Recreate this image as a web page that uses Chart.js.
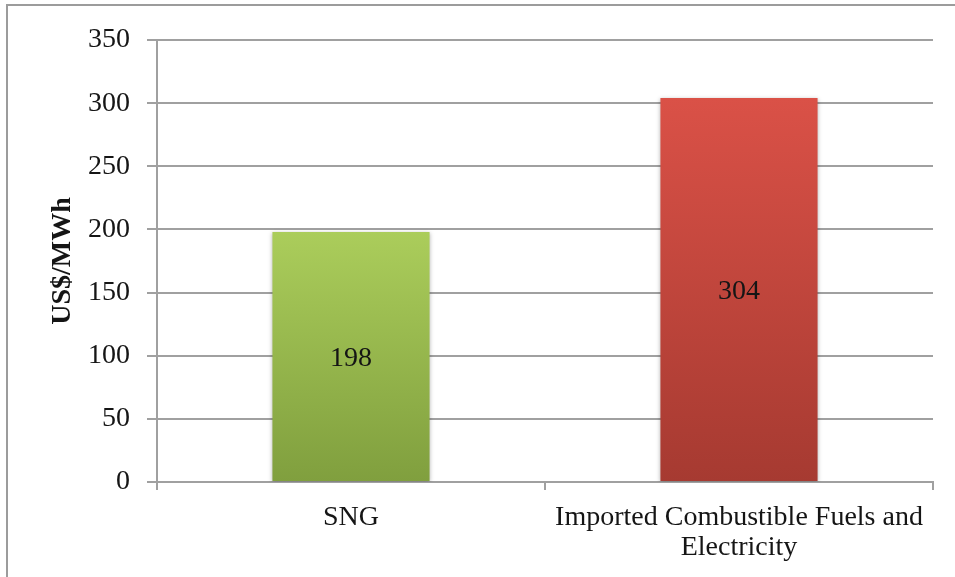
<!DOCTYPE html>
<html>
<head>
<meta charset="utf-8">
<script src="https://cdn.jsdelivr.net/npm/chart.js@4/dist/chart.umd.min.js"></script>
<style>
  html, body { margin: 0; padding: 0; background: #ffffff; }
  #wrap { position: relative; width: 955px; height: 577px; overflow: hidden; }
  #frame { position: absolute; left: 6px; top: 4px; width: 1000px; height: 1000px;
           border-left: 2px solid #9c9c9c; border-top: 2px solid #9c9c9c; }
  #c { position: absolute; left: 0; top: 0; }
</style>
</head>
<body>
<div id="wrap">
  <div id="frame"></div>
  <canvas id="c" width="955" height="577"></canvas>
</div>
<script>
// Cost comparison, US$ per MWh
const categories = ['SNG', ['Imported Combustible Fuels and', 'Electricity']];
const costs = [198, 304];
const yTicks = [0, 50, 100, 150, 200, 250, 300, 350];
const gradientStops = [
  ['#abcd5b', '#809f3e'],
  ['#da5147', '#a63a31']
];

const FONT = "'Liberation Serif', 'Times New Roman', serif";
const GRID = '#a0a0a0';
const TEXT = '#151515';

function barFill(ctx) {
  const chart = ctx.chart;
  const area = chart.chartArea;
  if (!area) return gradientStops[ctx.dataIndex][0];
  const y = chart.scales.y;
  const top = y.getPixelForValue(ctx.raw);
  const bottom = y.getPixelForValue(0);
  const g = chart.ctx.createLinearGradient(0, top, 0, bottom);
  g.addColorStop(0, gradientStops[ctx.dataIndex][0]);
  g.addColorStop(1, gradientStops[ctx.dataIndex][1]);
  return g;
}

// Soft shadow behind the bars
const barShadow = {
  id: 'barShadow',
  beforeDatasetDraw(chart) {
    const c = chart.ctx;
    c.save();
    c.shadowColor = 'rgba(0,0,0,0.28)';
    c.shadowBlur = 4;
    c.shadowOffsetX = 0;
    c.shadowOffsetY = 1;
  },
  afterDatasetDraw(chart) {
    chart.ctx.restore();
  }
};

// Value written in the middle of each bar
const barValues = {
  id: 'barValues',
  afterDatasetsDraw(chart) {
    const c = chart.ctx;
    const meta = chart.getDatasetMeta(0);
    c.save();
    c.font = '28px ' + FONT;
    c.fillStyle = TEXT;
    c.textAlign = 'center';
    c.textBaseline = 'middle';
    meta.data.forEach((bar, i) => {
      const p = bar.getCenterPoint();
      c.fillText(String(chart.data.datasets[0].data[i]), p.x, p.y + 2);
    });
    c.restore();
  }
};

new Chart(document.getElementById('c'), {
  type: 'bar',
  data: {
    labels: categories,
    datasets: [{
      data: costs,
      backgroundColor: barFill,
      borderWidth: 0,
      categoryPercentage: 1,
      barPercentage: 0.405
    }]
  },
  options: {
    responsive: false,
    animation: false,
    events: [],
    layout: { padding: { top: 40, right: 22, bottom: 0, left: 0 } },
    plugins: { legend: { display: false }, tooltip: { enabled: false } },
    scales: {
      x: {
        offset: true,
        grid: { drawOnChartArea: false, drawTicks: true, tickLength: 8, color: GRID, lineWidth: 2 },
        border: { display: true, color: GRID, width: 2 },
        ticks: {
          font: { family: FONT, size: 28, lineHeight: 1.07 },
          color: TEXT,
          padding: 13,
          maxRotation: 0,
          autoSkip: false
        },
        afterFit(s) { s.height = 95; }
      },
      y: {
        min: 0,
        max: 350,
        afterBuildTicks(s) { s.ticks = yTicks.map(v => ({ value: v })); },
        grid: { drawTicks: true, tickLength: 10, color: GRID, lineWidth: 2 },
        border: { display: true, color: GRID, width: 2 },
        ticks: {
          font: { family: FONT, size: 28 },
          color: TEXT,
          padding: 17
        },
        title: {
          display: true,
          text: 'US$/MWh',
          font: { family: FONT, size: 28, weight: 'bold' },
          color: TEXT,
          padding: { top: 46, bottom: 0 }
        },
        afterFit(s) { s.width = 157; }
      }
    }
  },
  plugins: [barShadow, barValues]
});
</script>
</body>
</html>
